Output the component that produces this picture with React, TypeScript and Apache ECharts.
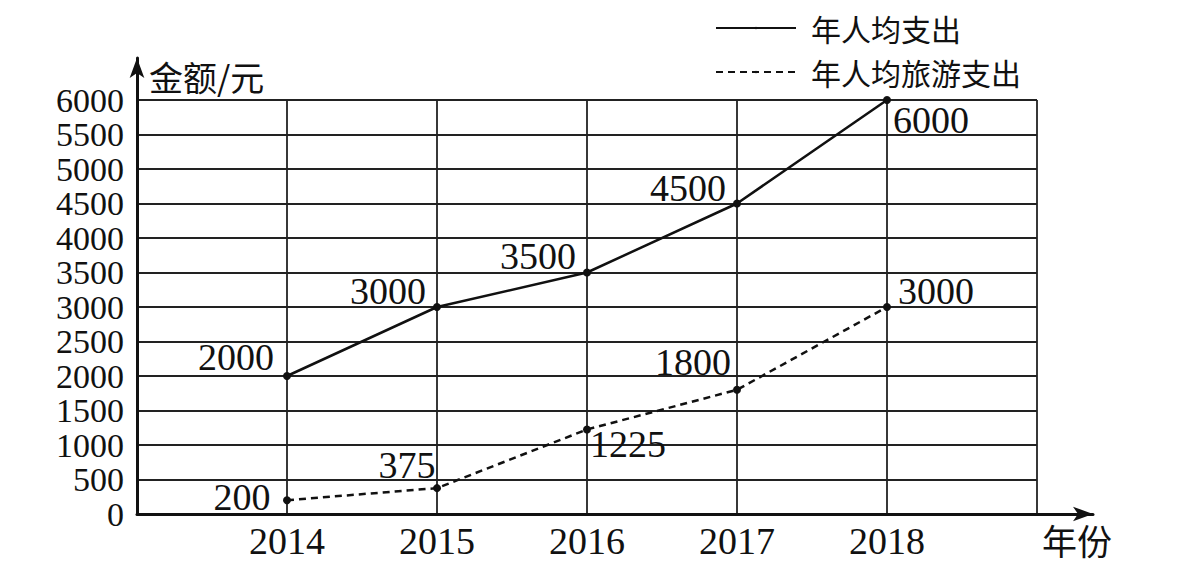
import React, { useEffect, useRef } from "react";
import * as echarts from "echarts";

const years = [2014, 2015, 2016, 2017, 2018];
const spending = [2000, 3000, 3500, 4500, 6000];
const travel = [200, 375, 1225, 1800, 3000];
const seriesNames = ["年人均支出", "年人均旅游支出"];
const yTicks = { min: 0, max: 6000, step: 500 };
const yName = "金额/元";
const xName = "年份";

// label offsets (style only) relative to each point
const spendingLabelOffsets = [[-51, -19], [-49, -16], [-49, -17], [-49, -16], [44, 20]];
const travelLabelOffsets = [[-45, -3], [-30, -23], [41, 15], [-44, -28], [49, -16]];

const SERIF = "'Liberation Serif', 'DejaVu Serif', serif";
const CJK = "'Noto Sans CJK SC', sans-serif";
const INK = "#111";

export default function App() {
  const ref = useRef<HTMLDivElement>(null);
  useEffect(() => {
    if (!ref.current) return;
    const chart = echarts.init(ref.current, undefined, { renderer: "svg" });
    const labelFor = (v: number, off: number[]) => ({
      show: true,
      position: "inside",
      offset: off,
      formatter: String(v),
      fontFamily: SERIF,
      fontSize: 38,
      lineHeight: 34,
      color: INK,
    });
    chart.setOption({
      animation: false,
      backgroundColor: "#fff",
      legend: {
        orient: "vertical",
        left: 715,
        top: 13,
        padding: 0,
        itemWidth: 80,
        itemHeight: 3,
        itemGap: 14,
        selectedMode: false,
        data: seriesNames,
        textStyle: {
          fontFamily: CJK,
          fontSize: 30,
          lineHeight: 30,
          color: INK,
          padding: [0, 0, 0, 10],
        },
      },
      grid: [
        { left: 137, right: 144, top: 100, bottom: 57 },
        { left: 137, right: 88, top: 58, bottom: 57 },
      ],
      xAxis: [
        {
          type: "value",
          gridIndex: 0,
          min: 2013,
          max: 2019,
          interval: 1,
          axisLine: { show: false },
          axisTick: { show: false },
          axisLabel: {
            margin: 8,
            fontFamily: SERIF,
            fontSize: 38,
            color: INK,
            showMinLabel: true,
            showMaxLabel: true,
            hideOverlap: false,
            formatter: (v: number) => (years.includes(v) ? String(v) : ""),
          },
          splitLine: { show: true, lineStyle: { color: "#222", width: 1.8 } },
        },
        {
          type: "value",
          gridIndex: 1,
          min: 0,
          max: 1,
          axisLine: {
            show: true,
            symbol: ["none", "arrow"],
            symbolSize: [11, 20],
            lineStyle: { color: INK, width: 3 },
          },
          axisTick: { show: false },
          axisLabel: { show: false },
          splitLine: { show: false },
          name: xName,
          nameLocation: "end",
          nameGap: -51,
          nameTextStyle: {
            fontFamily: CJK,
            fontSize: 35,
            color: INK,
            align: "left",
            verticalAlign: "top",
            padding: [8, 0, 0, 0],
          },
        },
      ],
      yAxis: [
        {
          type: "value",
          gridIndex: 0,
          min: yTicks.min,
          max: yTicks.max,
          interval: yTicks.step,
          axisLine: { show: false },
          axisTick: { show: false },
          axisLabel: {
            margin: 13,
            fontFamily: SERIF,
            fontSize: 34,
            lineHeight: 30,
            color: INK,
            showMinLabel: true,
            showMaxLabel: true,
            hideOverlap: false,
            formatter: (v: number) => String(v),
          },
          splitLine: { show: true, lineStyle: { color: "#222", width: 1.8 } },
        },
        {
          type: "value",
          gridIndex: 1,
          min: 0,
          max: 1,
          axisLine: {
            show: true,
            symbol: ["none", "arrow"],
            symbolSize: [11, 20],
            lineStyle: { color: INK, width: 3 },
          },
          axisTick: { show: false },
          axisLabel: { show: false },
          splitLine: { show: false },
          name: yName,
          nameLocation: "end",
          nameGap: -1,
          nameTextStyle: {
            fontFamily: CJK,
            fontSize: 34,
            color: INK,
            align: "left",
            verticalAlign: "top",
            padding: [0, 0, 0, 12],
          },
        },
      ],
      series: [
        {
          name: seriesNames[0],
          type: "line",
          xAxisIndex: 0,
          yAxisIndex: 0,
          symbol: "circle",
          symbolSize: 8,
          itemStyle: { color: INK },
          lineStyle: { color: INK, width: 2.5, type: "solid" },
          data: years.map((y, i) => ({
            value: [y, spending[i]],
            label: labelFor(spending[i], spendingLabelOffsets[i]),
          })),
        },
        {
          name: seriesNames[1],
          type: "line",
          xAxisIndex: 0,
          yAxisIndex: 0,
          symbol: "circle",
          symbolSize: 8,
          itemStyle: { color: INK },
          lineStyle: { color: INK, width: 2.5, type: [7, 5] },
          data: years.map((y, i) => ({
            value: [y, travel[i]],
            label: labelFor(travel[i], travelLabelOffsets[i]),
          })),
        },
      ],
    });
    return () => chart.dispose();
  }, []);
  return (
    <div
      ref={ref}
      style={{ position: "absolute", left: 0, top: 0, width: 1181, height: 571, background: "#fff" }}
    />
  );
}
